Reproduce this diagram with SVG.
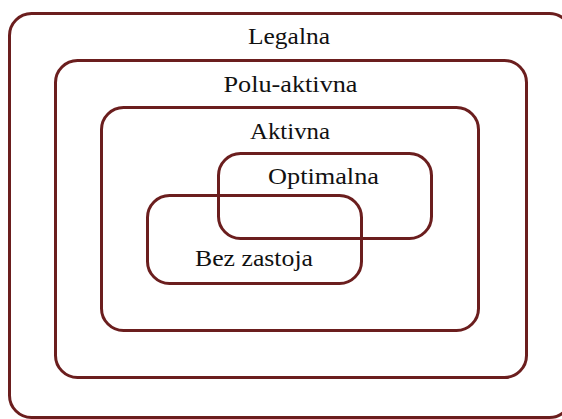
<svg xmlns="http://www.w3.org/2000/svg" width="562" height="419" viewBox="0 0 562 419">
<style>
.b{fill:none;stroke:#6b1e1e;stroke-width:3}
.t{font-family:"Liberation Serif","Times New Roman",serif;font-size:24px;fill:#111;text-anchor:middle}
</style>
<rect width="562" height="419" fill="#fff"/>
<g id="legalna"><rect class="b" x="9.5" y="13.5" width="562" height="404" rx="22"/><text class="t" x="289" y="44" textLength="82" lengthAdjust="spacingAndGlyphs">Legalna</text></g>
<g id="polu-aktivna"><rect class="b" x="55.5" y="60.5" width="471" height="317" rx="22"/><text class="t" x="290.5" y="92" textLength="134" lengthAdjust="spacingAndGlyphs">Polu-aktivna</text></g>
<g id="aktivna"><rect class="b" x="101.5" y="107.5" width="377" height="223" rx="22"/><text class="t" x="290" y="139" textLength="80" lengthAdjust="spacingAndGlyphs">Aktivna</text></g>
<g id="optimalna"><rect class="b" x="218.5" y="153.5" width="213" height="85" rx="22"/><text class="t" x="323.5" y="184" textLength="111" lengthAdjust="spacingAndGlyphs">Optimalna</text></g>
<g id="bez-zastoja"><rect class="b" x="147.5" y="195.5" width="214" height="88" rx="22"/><text class="t" x="254" y="266" textLength="118" lengthAdjust="spacingAndGlyphs">Bez zastoja</text></g>
<g id="connectors"/>
</svg>
